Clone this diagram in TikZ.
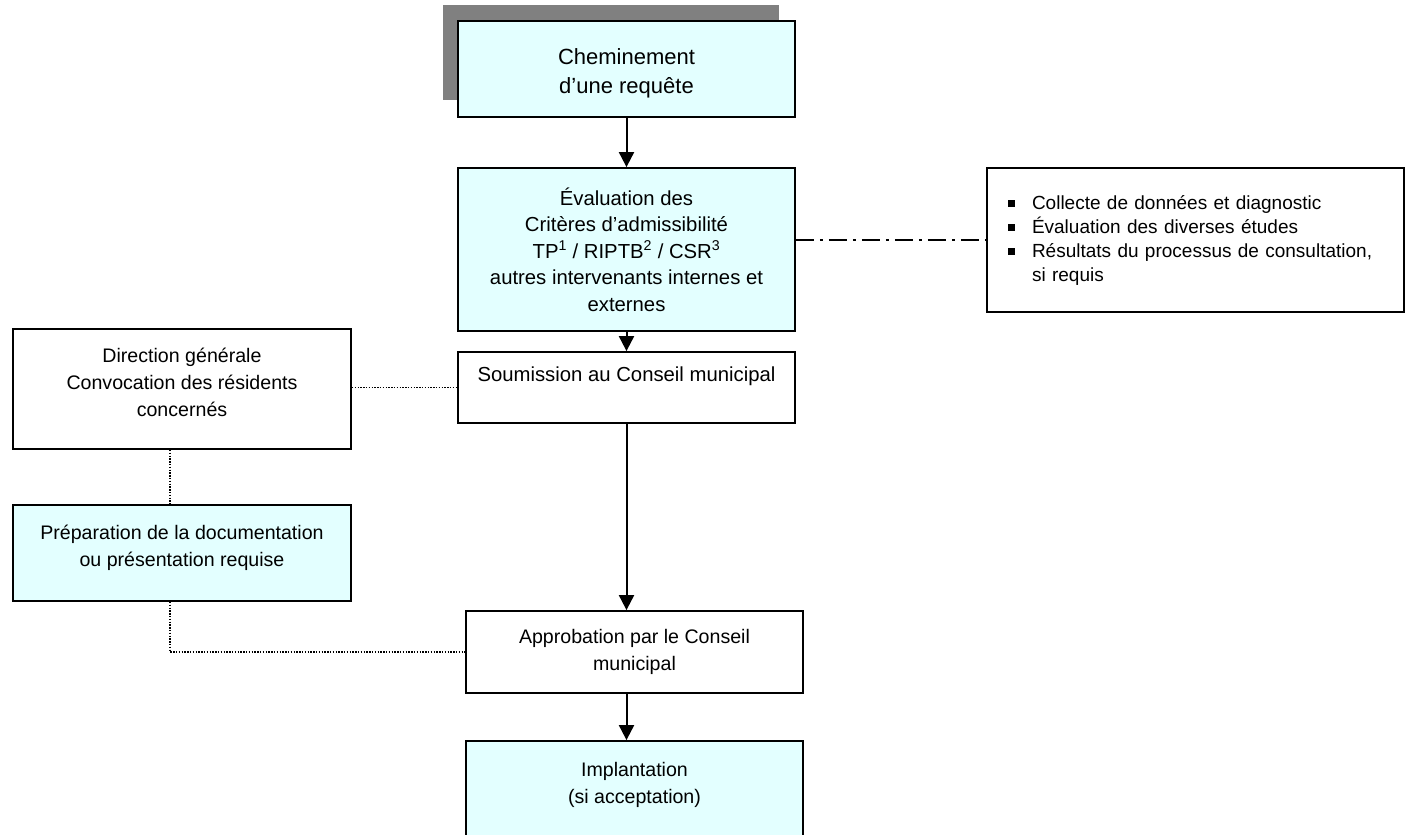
\documentclass[tikz,border=0pt]{standalone}
\usepackage{fontspec}
\setmainfont{Liberation Sans}
\usetikzlibrary{arrows.meta}
\definecolor{lcyan}{HTML}{E3FFFF}
\definecolor{shadowgray}{HTML}{808080}
\newcommand{\sqbul}{\raisebox{2pt}{\rule{7pt}{7pt}}}
\begin{document}
\begin{tikzpicture}[x=1pt,y=-1pt,
  box/.style={draw=black, line width=1.8pt, rectangle, inner sep=0pt, align=center,
    font=\fontsize{19.6}{27}\selectfont},
  cbox/.style={box, fill=lcyan},
  bigfont/.style={font=\fontsize{20.3}{26.5}\selectfont},
  arr/.style={line width=2pt, -{Triangle[length=15pt,width=15pt]}},
  dotline/.style={line width=1.4pt, dash pattern=on 1.4pt off 1.4pt},
  dashdot/.style={line width=1.5pt, dash pattern=on 18pt off 6pt on 3pt off 6pt}]
\useasboundingbox (0,0) rectangle (1406,835);
\clip (0,0) rectangle (1406,835);
\fill[white] (0,0) rectangle (1406,835);
% shadow of title box
\fill[shadowgray] (443,5) rectangle (779,100);
% main column
\node[cbox, minimum width=337pt, minimum height=96pt, font=\fontsize{22}{29}\selectfont] (req) at (626.5,69)
  {\rule{0pt}{24pt}Cheminement\\d’une requête};
\node[cbox, bigfont, minimum width=337pt, minimum height=163pt] (eval) at (626.5,249.5)
  {Évaluation des\\Critères d’admissibilité\\TP\textsuperscript{1} / RIPTB\textsuperscript{2} / CSR\textsuperscript{3}\\autres intervenants internes et\\externes};
\node[box, bigfont, minimum width=337pt, minimum height=71pt] (soum) at (626.5,387.5)
  {Soumission au Conseil municipal\\\mbox{}};
\node[box, minimum width=337pt, minimum height=82pt] (appro) at (634.5,652)
  {Approbation par le Conseil\\municipal};
\node[cbox, minimum width=337pt, minimum height=110pt] (impl) at (634.5,796)
  {Implantation\\(si acceptation)\\\mbox{}};
% left column
\node[box, minimum width=338pt, minimum height=120pt] (dir) at (182,389)
  {Direction générale\\Convocation des résidents\\concernés\\[-13pt]\mbox{}};
\node[cbox, minimum width=338pt, minimum height=96pt] (prep) at (182,553)
  {Préparation de la documentation\\ou présentation requise\\[-12pt]\mbox{}};
% right note box
\node[box, minimum width=417pt, minimum height=144pt, text width=375pt, align=left,
  font=\fontsize{19}{24}\selectfont] (note) at (1195.5,240)
  {\mbox{\makebox[24pt][l]{\sqbul}Collecte de données et diagnostic}\\
   \mbox{\makebox[24pt][l]{\sqbul}Évaluation des diverses études}\\
   \mbox{\makebox[24pt][l]{\sqbul}Résultats du processus de consultation,}\\
   \mbox{\hspace*{24pt}si requis}};
% arrows
\draw[arr] (req.south) -- (eval.north);
\draw[arr] (eval.south) -- (soum.north);
\draw[arr] (soum.south) -- (soum.south |- appro.north);
\draw[arr] (soum.south |- appro.south) -- (soum.south |- impl.north);
% connectors
\draw[dashdot] (eval.east |- note.west) -- (note.west);
\draw[dotline] (dir.east |- soum.west) -- (soum.west);
\draw[dotline] ([xshift=-12pt]dir.south) -- ([xshift=-12pt]prep.north);
\draw[dotline] ([xshift=-12pt]prep.south) |- (appro.west);
\end{tikzpicture}
\end{document}
